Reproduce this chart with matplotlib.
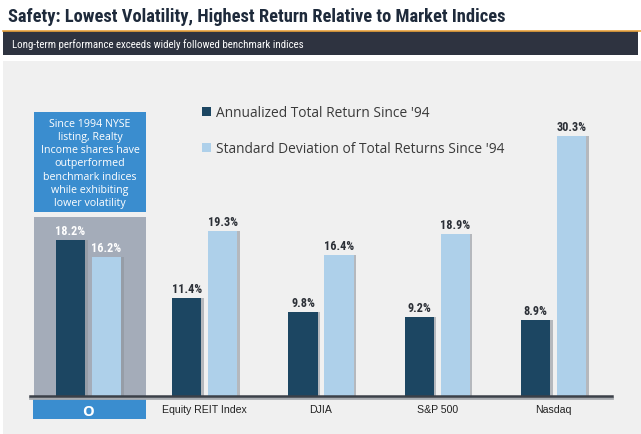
import matplotlib
matplotlib.use("Agg")
import matplotlib.pyplot as plt
from matplotlib.patches import Rectangle
from matplotlib import font_manager
import numpy as np

# ---- data ----
categories = ["O", "Equity REIT Index", "DJIA", "S&P 500", "Nasdaq"]
annual_return = [18.2, 11.4, 9.8, 9.2, 8.9]
std_dev = [16.2, 19.3, 16.4, 18.9, 30.3]
series_names = ["Annualized Total Return Since '94",
                "Standard Deviation of Total Returns Since '94"]
title = "Safety: Lowest Volatility, Highest Return Relative to Market Indices"
subtitle = "Long-term performance exceeds widely followed benchmark indices"
note = ("Since 1994 NYSE\nlisting, Realty\nIncome shares have\noutperformed\n"
        "benchmark indices\nwhile exhibiting\nlower volatility")

DARK = "#1c4662"
LIGHT = "#aed0ea"
W, H = 641, 435

# pick a condensed font if one is installed
names = {f.name for f in font_manager.fontManager.ttflist}
narrow_pref = ["Liberation Sans Narrow", "Roboto Condensed", "DejaVu Sans Condensed",
               "Open Sans Condensed", "Noto Sans Condensed", "Arial Narrow",
               "Roboto", "DejaVu Sans"]
NARROW = [n for n in narrow_pref if n in names] + ["DejaVu Sans"]
STRETCH = "condensed"

fig = plt.figure(figsize=(W / 100, H / 100), dpi=100, facecolor="white")

# ---- background decoration (pixel coordinates) ----
bg = fig.add_axes([0, 0, 1, 1], zorder=0)
bg.set_xlim(0, W)
bg.set_ylim(H, 0)
bg.axis("off")
bg.add_patch(Rectangle((3, 62), 638, 373, color="#f0f0f0", lw=0))
bg.add_patch(Rectangle((3, 32), 635, 24, color="#2e3340", lw=0))
bg.plot([3, 641], [31.5, 31.5], color="#e9a23b", lw=1.2)
t_title = bg.text(8, 17, title, family=NARROW, fontweight="bold", fontsize=20,
                  fontstretch=STRETCH, color="#1e2a3b", va="center", ha="left")
t_sub = bg.text(12, 44.5, subtitle, family=NARROW, fontsize=10, fontstretch=STRETCH,
                color="white", va="center", ha="left")

renderer = fig.canvas.get_renderer()


def fit_width(t, target_px):
    for _ in range(3):
        w = t.get_window_extent(renderer=renderer).width
        t.set_fontsize(t.get_fontsize() * target_px / w)


fit_width(t_title, 502)
fit_width(t_sub, 292)

# ---- chart axes ----
px_per_pct = 8.57
ax_bottom, ax_top = 397, 62
ax = fig.add_axes([30 / W, 1 - ax_bottom / H, 582 / W, (ax_bottom - ax_top) / H],
                  zorder=1)
ax.patch.set_alpha(0)
ax.set_xlim(-0.503, 4.503)
ax.set_ylim(0, (ax_bottom - ax_top) / px_per_pct)
for s in ["top", "right", "left", "bottom"]:
    ax.spines[s].set_visible(False)
ax.set_yticks([])

x = np.arange(len(categories))
bw = 0.25
off = 0.155

# highlight box for O
ax.add_patch(Rectangle((-0.469, 0), 0.964, (397 - 218) / px_per_pct,
                       color="#a4acb9", lw=0, zorder=1))
# note box
ax.add_patch(Rectangle((-0.469, (397 - 213) / px_per_pct), 0.964,
                       100 / px_per_pct, color="#3a8dcf", lw=0, zorder=1))
ax.text(0.013, (397 - 164) / px_per_pct, note, ha="center", va="center",
        color="white", fontsize=7.7, family=["Open Sans", "DejaVu Sans"],
        linespacing=1.27, zorder=3)
# O label box
ax.add_patch(Rectangle((-0.478, -23 / px_per_pct), 0.973, 20 / px_per_pct,
                       color="#3a8dcf", lw=0, zorder=1, clip_on=False))

# shadows
sh = 0.022
ax.bar(x - off + sh, annual_return, bw, color="#8e949b", alpha=0.6, zorder=2)
ax.bar(x + off + sh, std_dev, bw, color="#8e949b", alpha=0.6, zorder=2)
b1 = ax.bar(x - off, annual_return, bw, color=DARK, zorder=3, label=series_names[0])
b2 = ax.bar(x + off, std_dev, bw, color=LIGHT, zorder=3, label=series_names[1])

for i, (a, s) in enumerate(zip(annual_return, std_dev)):
    c = "white" if i == 0 else "#2b2f36"
    for xv, v in ((x[i] - off, a), (x[i] + off, s)):
        ax.annotate(f"{v}%", (xv, v), xytext=(0, 2.2), textcoords="offset points",
                    ha="center", va="bottom", fontsize=8.8, fontweight="bold",
                    family=NARROW, fontstretch=STRETCH, color=c, zorder=4)

# baseline with shadow
ax.axhline(-0.25, color="#a8abb0", lw=2, zorder=4, clip_on=False)
ax.axhline(0, color="#3b4048", lw=1.8, zorder=5, clip_on=False)

ax.set_xticks(x)
ax.set_xticklabels(categories, fontsize=7.6, family=["Liberation Sans", "DejaVu Sans"],
                   color="#222222")
ax.tick_params(axis="x", length=0, pad=6)
lbl0 = ax.get_xticklabels()[0]
lbl0.set_color("white")
lbl0.set_fontweight("bold")
lbl0.set_fontsize(10.5)
lbl0.set_family(["Open Sans", "DejaVu Sans"])

# legend
leg = ax.legend(handles=[b1, b2], loc="upper left",
                bbox_to_anchor=((190 - 30) / 582, (397 - 94) / 335),
                frameon=False, handlelength=0.62, handleheight=0.62,
                handletextpad=0.35, labelspacing=1.5,
                prop={"family": ["Open Sans", "DejaVu Sans"], "size": 9.9})
for t in leg.get_texts():
    t.set_color("#3a3a3a")

fig.savefig("out.png", dpi=100, facecolor="white")
